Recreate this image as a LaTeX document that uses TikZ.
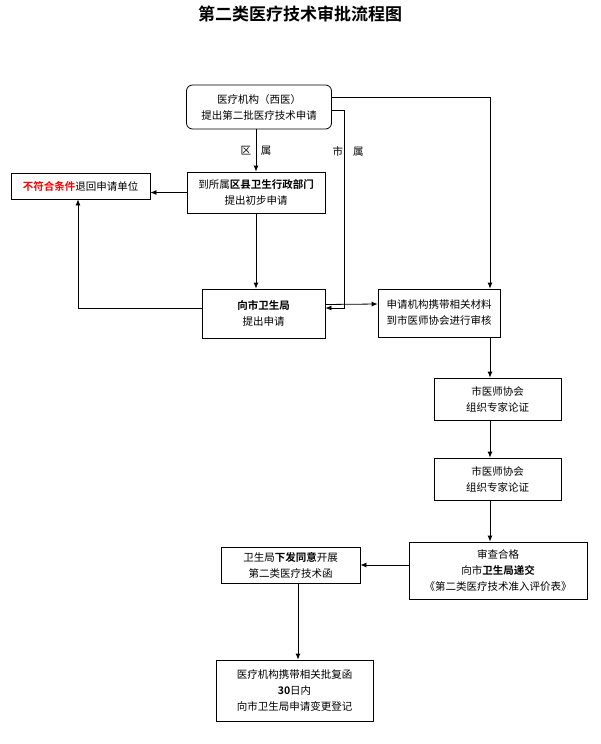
\documentclass[tikz,border=0pt]{standalone}
\usepackage{fontspec}
\setmainfont{Noto Sans CJK SC}[BoldFont={Noto Sans CJK SC Bold}]
\usetikzlibrary{arrows.meta}
\begin{document}
\begin{tikzpicture}[x=1pt,y=-1pt,line width=0.8pt,>={Latex[length=6pt,width=5pt]},
  box/.style={draw,align=center,font=\fontsize{10.5}{16}\selectfont,inner sep=0pt},
  lbl/.style={font=\fontsize{10.5}{12}\selectfont}]
\useasboundingbox (0,0) rectangle (600,744);
\node[font=\fontsize{17}{20}\selectfont\bfseries] (title) at (300,14) {第二类医疗技术审批流程图};

\node[box,rounded corners=6pt,minimum width=145pt,minimum height=44pt] (org) at (259,107) {医疗机构（西医）\\提出第二批医疗技术申请};
\node[box,minimum width=139pt,minimum height=26pt] (back) at (80.5,186) {{\color{red}\bfseries 不符合条件}退回申请单位};
\node[box,minimum width=138pt,minimum height=41pt] (dist) at (256,192.5) {到所属\textbf{区县卫生行政部门}\\提出初步申请};
\node[box,minimum width=123pt,minimum height=49pt] (bur) at (263.5,313.5) {\textbf{向市卫生局}\\提出申请};
\node[box,minimum width=122pt,minimum height=48pt] (as1) at (439,313) {申请机构携带相关材料\\到市医师协会进行审核};
\node[box,minimum width=127pt,minimum height=42pt] (as2) at (497.5,399) {市医师协会\\组织专家论证};
\node[box,minimum width=127pt,minimum height=42pt] (as3) at (497.5,479) {市医师协会\\组织专家论证};
\node[box,minimum width=178pt,minimum height=57pt] (pass) at (498,570.5) {审查合格\\向市\textbf{卫生局递交}\\《第二类医疗技术准入评价表》};
\node[box,minimum width=139pt,minimum height=36pt] (ok) at (290.5,565) {卫生局\textbf{下发同意}开展\\第二类医疗技术函};
\node[box,minimum width=157pt,minimum height=61pt] (fin) at (294.5,690.5) {医疗机构携带相关批复函\\\textbf{30}日内\\向市卫生局申请变更登记};

\coordinate (c1) at (490,97);
\coordinate (c2) at (344,110);
\coordinate (c3) at (344,308);
\coordinate (c4) at (78,308);

\draw[->] (org.south -| dist.north) -- node[lbl,pos=0.5]{区\hspace{10pt}属} (dist.north);
\draw[->] (org.east |- c1) -- (c1) -- (c1 |- as1.north);
\draw[->] (org.east |- c2) -- (c2) -- node[lbl,pos=0.21,xshift=4pt]{市\hspace{10pt}属} (c3) -- (bur.east |- c3);
\draw[->] (dist.west) -- (back.east |- dist.west);
\draw[->] (dist.south) -- (dist.south |- bur.north);
\draw[->] (bur.west |- c4) -- (c4) -- (c4 |- back.south);
\draw[->] ([yshift=9pt]bur.east) -- ([yshift=9pt]as1.west);
\draw[->] (as1.south -| c1) -- (c1 |- as2.north);
\draw[->] (as2.south -| c1) -- (c1 |- as3.north);
\draw[->] (as3.south -| c1) -- (c1 |- pass.north);
\draw[->] (pass.west |- ok.east) -- (ok.east);
\draw[->] (ok.south -| 298,0) -- (298,0 |- fin.north);
\end{tikzpicture}
\end{document}
